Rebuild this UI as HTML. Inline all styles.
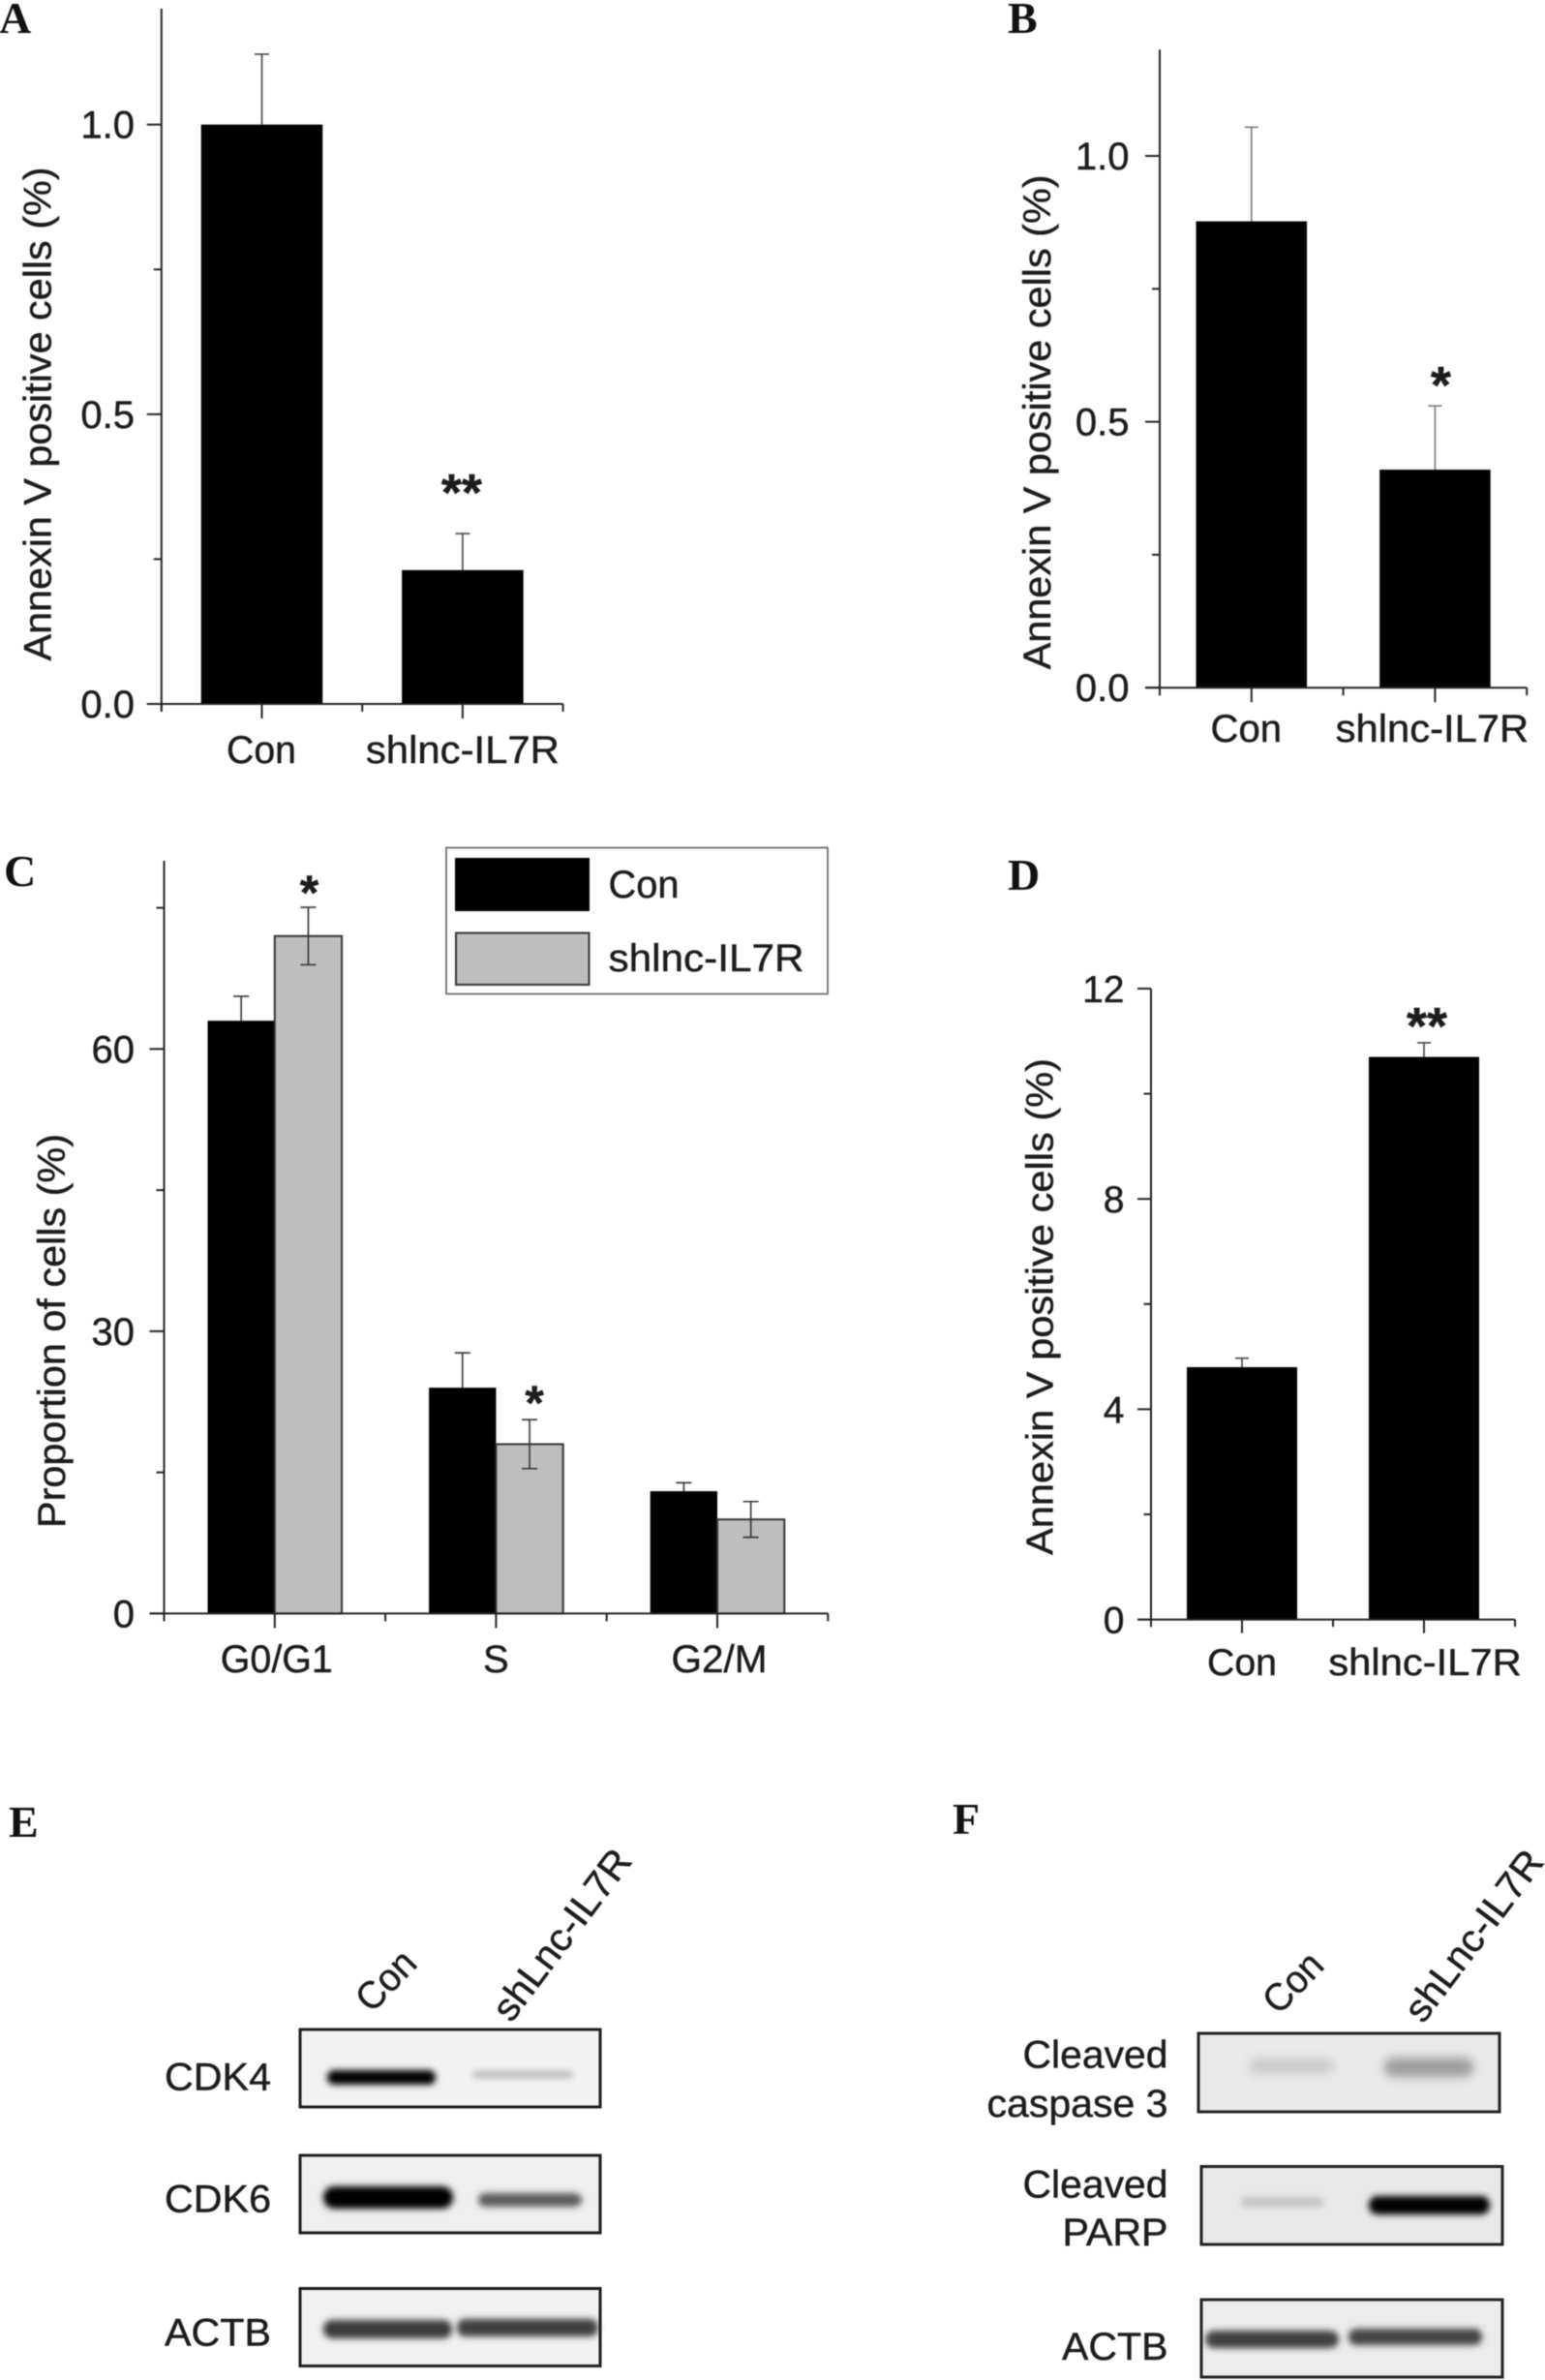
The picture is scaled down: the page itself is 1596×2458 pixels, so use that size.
<!DOCTYPE html>
<html lang="en">
<head>
<meta charset="utf-8">
<title>Annexin V, cell cycle and western blot figure</title>
<style>
html,body{margin:0;padding:0;background:#fff;}
#figure{display:block;width:1596px;height:2458px;background:#fff;filter:blur(0.5px);}
text{font-family:"Liberation Sans",Arial,sans-serif;fill:#1c1c1c;stroke:#1c1c1c;stroke-width:0.45px;}
.panel-letter{font-family:"Liberation Serif","Times New Roman",serif;font-weight:bold;font-size:46px;fill:#111;stroke:none;}
.blot-label{font-size:40px;}
</style>
</head>
<body>
<svg id="figure" xmlns="http://www.w3.org/2000/svg" width="1596" height="2458" viewBox="0 0 1596 2458">
  <defs>
    <filter id="blur-strong" filterUnits="userSpaceOnUse" x="0" y="1900" width="1596" height="558"><feGaussianBlur stdDeviation="5"/></filter>
    <filter id="blur-soft" filterUnits="userSpaceOnUse" x="0" y="1900" width="1596" height="558"><feGaussianBlur stdDeviation="3.5"/></filter>
  </defs>

  <text class="panel-letter" x="-1" y="34">A</text>
  <text class="panel-letter" x="1041" y="34">B</text>
  <text class="panel-letter" x="4" y="915">C</text>
  <text class="panel-letter" x="1041" y="919">D</text>
  <text class="panel-letter" x="9" y="1897">E</text>
  <text class="panel-letter" x="984" y="1894">F</text>

  <g id="charts"></g>

  <g>
    <rect x="461" y="875.5" width="394" height="151" fill="#fff" stroke="#555" stroke-width="1.5"/>
    <rect x="470" y="886" width="139" height="55" fill="#000"/>
    <rect x="471" y="963.5" width="137.5" height="53.5" fill="#bebebe" stroke="#333" stroke-width="2"/>
    <text x="628.5" y="927" font-size="40" textLength="73" lengthAdjust="spacingAndGlyphs">Con</text>
    <text x="628.5" y="1003" font-size="40" textLength="202" lengthAdjust="spacingAndGlyphs">shlnc-IL7R</text>
  </g>

  <g>
    <text class="blot-label" transform="translate(384 2080) rotate(-46)" textLength="70" lengthAdjust="spacingAndGlyphs">Con</text>
    <text class="blot-label" transform="translate(528 2090) rotate(-53)" textLength="210" lengthAdjust="spacingAndGlyphs">shLnc-IL7R</text>
    <text class="blot-label" x="170" y="2158.5" textLength="110" lengthAdjust="spacingAndGlyphs">CDK4</text>
    <text class="blot-label" x="170" y="2284.5" textLength="110" lengthAdjust="spacingAndGlyphs">CDK6</text>
    <text class="blot-label" x="170" y="2422.5" textLength="110" lengthAdjust="spacingAndGlyphs">ACTB</text>

    <g>
      <rect x="310" y="2096" width="310" height="80" fill="#f2f2f2"/>
      <rect x="338" y="2138" width="112" height="15" rx="7" fill="#000" filter="url(#blur-soft)"/>
      <rect x="488" y="2139" width="104" height="7" rx="3" fill="#b8b8b8" filter="url(#blur-soft)"/>
      <rect x="310" y="2096" width="310" height="80" fill="none" stroke="#1d1d1d" stroke-width="3"/>
    </g>
    <g>
      <rect x="310" y="2226" width="310" height="80" fill="#efefef"/>
      <rect x="334" y="2258" width="134" height="23" rx="11" fill="#000" filter="url(#blur-soft)"/>
      <rect x="494" y="2265" width="107" height="14" rx="7" fill="#5c5c5c" filter="url(#blur-soft)"/>
      <rect x="310" y="2226" width="310" height="80" fill="none" stroke="#1d1d1d" stroke-width="3"/>
    </g>
    <g>
      <rect x="310" y="2363.5" width="310" height="80" fill="#f1f1f1"/>
      <rect x="334" y="2396" width="133" height="19" rx="9" fill="#3a3a3a" filter="url(#blur-soft)"/>
      <rect x="472" y="2395" width="146" height="18" rx="8" fill="#3f3f3f" filter="url(#blur-soft)"/>
      <rect x="310" y="2363.5" width="310" height="80" fill="none" stroke="#1d1d1d" stroke-width="3"/>
    </g>
  </g>

  <g>
    <text class="blot-label" transform="translate(1321 2082) rotate(-46)" textLength="70" lengthAdjust="spacingAndGlyphs">Con</text>
    <text class="blot-label" transform="translate(1470 2091) rotate(-53)" textLength="210" lengthAdjust="spacingAndGlyphs">shLnc-IL7R</text>
    <text class="blot-label" x="1206.5" y="2135.5" text-anchor="end" textLength="150" lengthAdjust="spacingAndGlyphs">Cleaved</text>
    <text class="blot-label" x="1206.5" y="2186" text-anchor="end" textLength="187" lengthAdjust="spacingAndGlyphs">caspase 3</text>
    <text class="blot-label" x="1206.5" y="2269.5" text-anchor="end" textLength="150" lengthAdjust="spacingAndGlyphs">Cleaved</text>
    <text class="blot-label" x="1206.5" y="2319" text-anchor="end" textLength="109" lengthAdjust="spacingAndGlyphs">PARP</text>
    <text class="blot-label" x="1206.5" y="2437" text-anchor="end" textLength="109.5" lengthAdjust="spacingAndGlyphs">ACTB</text>

    <g>
      <rect x="1238" y="2100" width="311" height="81" fill="#e9e9e9"/>
      <rect x="1290" y="2126" width="88" height="16" rx="8" fill="#cbcbcb" filter="url(#blur-strong)"/>
      <rect x="1430" y="2125" width="92" height="20" rx="9" fill="#9e9e9e" filter="url(#blur-strong)"/>
      <rect x="1238" y="2100" width="311" height="81" fill="none" stroke="#222" stroke-width="3"/>
    </g>
    <g>
      <rect x="1241" y="2237.5" width="311" height="80.5" fill="#e8e8e8"/>
      <rect x="1282" y="2270" width="85" height="9" rx="4" fill="#c0c0c0" filter="url(#blur-soft)"/>
      <rect x="1414" y="2268" width="125" height="19" rx="9" fill="#000" filter="url(#blur-soft)"/>
      <rect x="1241" y="2237.5" width="311" height="80.5" fill="none" stroke="#222" stroke-width="3"/>
    </g>
    <g>
      <rect x="1241" y="2375" width="311" height="80" fill="#ececec"/>
      <rect x="1245" y="2407" width="138" height="18" rx="9" fill="#3f3f3f" filter="url(#blur-soft)"/>
      <rect x="1393" y="2405" width="138" height="17" rx="8" fill="#444" filter="url(#blur-soft)"/>
      <rect x="1241" y="2375" width="311" height="80" fill="none" stroke="#222" stroke-width="3"/>
    </g>
  </g>
</svg>

<script>
// Panel A data
const aCategories = ["Con", "shlnc-IL7R"];
const aValues = [1.0, 0.231];
const aErrors = [0.1215, 0.063];
const aMarks = ["", "**"];
const aMajorTicks = [0, 0.5, 1.0];
const aMajorLabels = ["0.0", "0.5", "1.0"];
const aMinorTicks = [0.25, 0.75];

// Panel B data
const bCategories = ["Con", "shlnc-IL7R"];
const bValues = [0.877, 0.41];
const bErrors = [0.177, 0.12];
const bMarks = ["", "*"];
const bMajorTicks = [0, 0.5, 1.0];
const bMajorLabels = ["0.0", "0.5", "1.0"];
const bMinorTicks = [0.25, 0.75];

// Panel C data
const cCategories = ["G0/G1", "S", "G2/M"];
const cConValues = [63, 24, 13];
const cConErrors = [2.6, 3.7, 0.9];
const cShValues = [72, 18, 10];
const cShErrors = [3.05, 2.6, 1.9];
const cShMarks = ["*", "*", ""];
const cMajorTicks = [0, 30, 60];
const cMajorLabels = ["0", "30", "60"];
const cMinorTicks = [15, 45, 75];

// Panel D data
const dCategories = ["Con", "shlnc-IL7R"];
const dValues = [4.8, 10.7];
const dErrors = [0.17, 0.27];
const dMarks = ["", "**"];
const dMajorTicks = [0, 4, 8, 12];
const dMajorLabels = ["0", "4", "8", "12"];
const dMinorTicks = [2, 6, 10];

const SVG_NS = "http://www.w3.org/2000/svg";
const chartsRoot = document.getElementById("charts");

function make(parent, tag, attrs) {
  const el = document.createElementNS(SVG_NS, tag);
  for (const key in attrs) el.setAttribute(key, attrs[key]);
  parent.appendChild(el);
  return el;
}

function drawLine(parent, x1, y1, x2, y2, color, width, name) {
  const el = make(parent, "line", { x1: x1, y1: y1, x2: x2, y2: y2, stroke: color, "stroke-width": width });
  
  
  return el;
}

function drawText(parent, x, y, str, size, anchor, len, name, rotate) {
  const el = make(parent, "text", { x: x, y: y, "font-size": size, "text-anchor": anchor });
  if (len) {
    el.setAttribute("textLength", len);
    el.setAttribute("lengthAdjust", "spacingAndGlyphs");
  }
  if (rotate) el.setAttribute("transform", "rotate(" + rotate + " " + x + " " + y + ")");
  el.textContent = str;
  
  
  return el;
}

function drawStar(parent, x, y, str, size, name) {
  const el = drawText(parent, x, y, str, size, "middle", 0, name);
  el.setAttribute("font-weight", "bold");
  return el;
}

function makeAxes(p) {
  const perUnit = p.plotHeight / p.yMax;
  return {
    y: function (v) { return p.y0 - v * perUnit; },
    x: function (i) { return p.axisX + (i + 0.5) * p.step; },
    edge: function (i) { return p.axisX + i * p.step; }
  };
}

function drawAxes(group, p, axes, categories, majorTicks, majorLabels, minorTicks) {
  const tickColor = "#222";
  drawLine(group, p.axisX, axes.y(0) + p.minorLen, p.axisX, axes.y(p.yMax), tickColor, 2, p.id + "-y-axis");
  drawLine(group, p.axisX - p.majorLen, p.y0, axes.edge(categories.length), p.y0, tickColor, 2, p.id + "-x-axis");
  majorTicks.forEach(function (v, i) {
    drawLine(group, p.axisX - p.majorLen, axes.y(v), p.axisX, axes.y(v), tickColor, 2, p.id + "-y-tick-major");
    drawText(group, p.labelRight, axes.y(v) + 14, majorLabels[i], p.fontSize, "end", 0, p.id + "-y-tick-label");
  });
  minorTicks.forEach(function (v) {
    drawLine(group, p.axisX - p.minorLen, axes.y(v), p.axisX, axes.y(v), tickColor, 2, p.id + "-y-tick-minor");
  });
  for (let i = 0; i <= categories.length; i++) {
    drawLine(group, axes.edge(i), p.y0, axes.edge(i), p.y0 + p.minorLen, tickColor, 2, p.id + "-x-tick-minor");
  }
  categories.forEach(function (c, i) {
    drawLine(group, axes.x(i), p.y0, axes.x(i), p.y0 + p.majorLen, tickColor, 2, p.id + "-x-tick-major");
    const len = p.xLabelLens[i];
    drawText(group, axes.x(i) + p.xLabelShift[i], p.xLabelY, c, p.fontSize, "middle", len, p.id + "-x-label-" + c.toLowerCase());
  });
  drawText(group, p.yTitleX, p.yTitleY, p.yTitle, p.fontSize, "start", p.yTitleLen, p.id + "-y-axis-title", -90);
}

function drawError(group, cx, top, bottom, cap, color, name, lowerCap) {
  drawLine(group, cx, top, cx, bottom, color, 1.6, name + "-stem");
  drawLine(group, cx - cap, top, cx + cap, top, color, 1.6, name + "-cap-top");
  if (lowerCap) drawLine(group, cx - cap, bottom, cx + cap, bottom, color, 1.6, name + "-cap-bottom");
}

function drawSimplePanel(p, categories, values, errors, marks, majorTicks, majorLabels, minorTicks) {
  const group = make(chartsRoot, "g", {});
  
  
  const axes = makeAxes(p);
  values.forEach(function (v, i) {
    const cx = axes.x(i);
    drawError(group, cx, axes.y(v + errors[i]), axes.y(v), p.cap, p.errColor, p.id + "-error-" + i, false);
    const bar = make(group, "rect", { x: cx - p.barWidth / 2, y: axes.y(v), width: p.barWidth, height: p.y0 - axes.y(v), fill: "#000" });
    
    
    if (marks[i]) {
      drawStar(group, cx + p.starDx, axes.y(v + errors[i]) - p.starGap, marks[i], p.starSize, p.id + "-significance-" + i);
    }
  });
  drawAxes(group, p, axes, categories, majorTicks, majorLabels, minorTicks);
}

function drawGroupedPanel(p, categories, conValues, conErrors, shValues, shErrors, shMarks, majorTicks, majorLabels, minorTicks) {
  const group = make(chartsRoot, "g", {});
  
  
  const axes = makeAxes(p);
  categories.forEach(function (c, i) {
    const cx = axes.x(i);
    const conX = cx - p.barWidth / 2;
    const shX = cx + p.barWidth / 2;
    drawError(group, conX, axes.y(conValues[i] + conErrors[i]), axes.y(conValues[i]), p.cap, p.errColor, p.id + "-error-con-" + i, false);
    const conBar = make(group, "rect", { x: cx - p.barWidth, y: axes.y(conValues[i]), width: p.barWidth, height: p.y0 - axes.y(conValues[i]), fill: "#000" });
    
    
    const shBar = make(group, "rect", { x: cx, y: axes.y(shValues[i]), width: p.barWidth, height: p.y0 - axes.y(shValues[i]), fill: "#bebebe", stroke: "#333", "stroke-width": 2 });
    
    
    drawError(group, shX, axes.y(shValues[i] + shErrors[i]), axes.y(shValues[i] - shErrors[i]), p.cap, p.errColor, p.id + "-error-shlnc-" + i, true);
    if (shMarks[i]) {
      drawStar(group, shX + (i === 0 ? 1 : 5), axes.y(shValues[i] + shErrors[i]) - p.starGaps[i], shMarks[i], p.starSize, p.id + "-significance-" + i);
    }
  });
  drawAxes(group, p, axes, categories, majorTicks, majorLabels, minorTicks);
}

drawSimplePanel({
  id: "panel-a", axisX: 166.8, step: 207.4, y0: 727, plotHeight: 718, yMax: 1.2, barWidth: 125.5,
  cap: 7.5, errColor: "#444", majorLen: 15, minorLen: 8, labelRight: 139, fontSize: 40,
  xLabelY: 788, xLabelLens: [72, 200], xLabelShift: [-0.5, 0],
  yTitle: "Annexin V positive cells (%)", yTitleX: 52.5, yTitleY: 682.5, yTitleLen: 510,
  starSize: 54, starDx: -1, starGap: 24
}, aCategories, aValues, aErrors, aMarks, aMajorTicks, aMajorLabels, aMinorTicks);

drawSimplePanel({
  id: "panel-b", axisX: 1198, step: 189.6, y0: 710.2, plotHeight: 659, yMax: 1.2, barWidth: 114.5,
  cap: 7, errColor: "#777", majorLen: 15, minorLen: 8, labelRight: 1166.5, fontSize: 40,
  xLabelY: 766, xLabelLens: [73.5, 199.5], xLabelShift: [-5.5, -3],
  yTitle: "Annexin V positive cells (%)", yTitleX: 1085, yTitleY: 691.4, yTitleLen: 511,
  starSize: 54, starDx: 6, starGap: 3
}, bCategories, bValues, bErrors, bMarks, bMajorTicks, bMajorLabels, bMinorTicks);

drawGroupedPanel({
  id: "panel-c", axisX: 169.5, step: 228.6, y0: 1666.4, plotHeight: 777.4, yMax: 80, barWidth: 69.3,
  cap: 8, errColor: "#333", majorLen: 15, minorLen: 8, labelRight: 139, fontSize: 40,
  xLabelY: 1727, xLabelLens: [116, 0, 99], xLabelShift: [2, 0, 2],
  yTitle: "Proportion of cells (%)", yTitleX: 67, yTitleY: 1578, yTitleLen: 407,
  starSize: 50, starGaps: [-2, 0, 0]
}, cCategories, cConValues, cConErrors, cShValues, cShErrors, cShMarks, cMajorTicks, cMajorLabels, cMinorTicks);

drawSimplePanel({
  id: "panel-d", axisX: 1189, step: 188, y0: 1672.6, plotHeight: 651.6, yMax: 12, barWidth: 114,
  cap: 7, errColor: "#444", majorLen: 14, minorLen: 7.5, labelRight: 1161.5, fontSize: 39,
  xLabelY: 1730, xLabelLens: [72, 199.5], xLabelShift: [0, 1],
  yTitle: "Annexin V positive cells (%)", yTitleX: 1087.5, yTitleY: 1606, yTitleLen: 513,
  starSize: 54, starDx: 3, starGap: -1
}, dCategories, dValues, dErrors, dMarks, dMajorTicks, dMajorLabels, dMinorTicks);
</script>
</body>
</html>
